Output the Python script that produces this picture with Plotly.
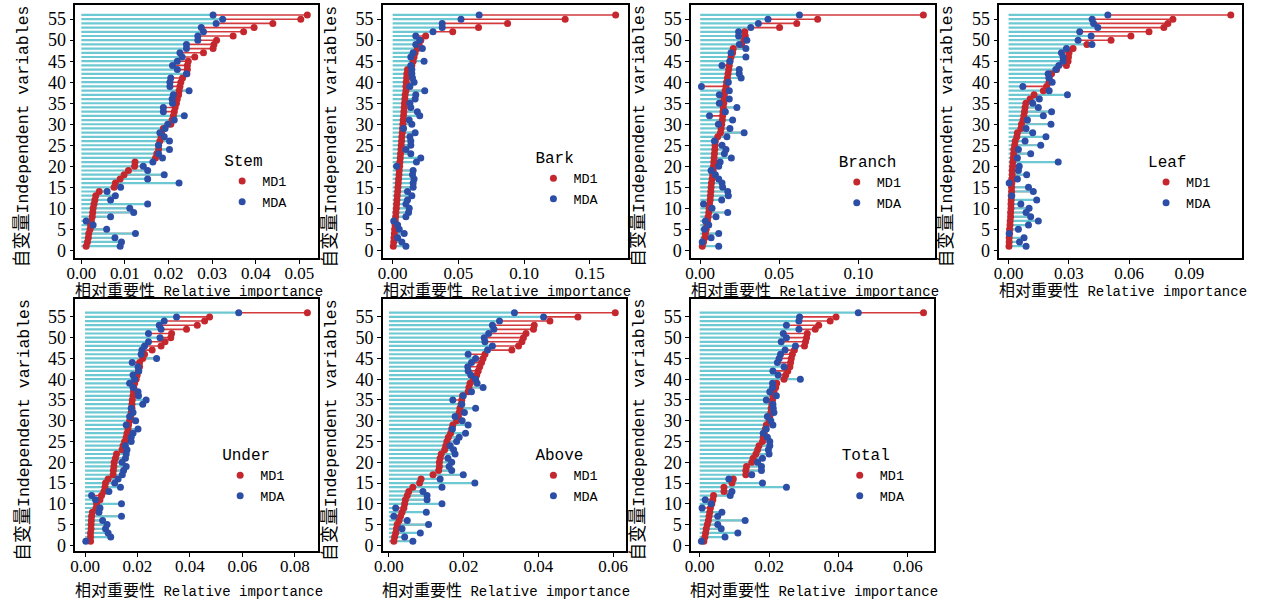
import plotly.graph_objects as go

# ---------------- data ----------------
variables = list(range(56, 0, -1))  # variable index, listed from 56 down to 1

panel_names = ["Stem", "Bark", "Branch", "Leaf", "Under", "Above", "Total"]

stem_mdi = [0.0518, 0.0503, 0.0439, 0.0396, 0.0372, 0.0348, 0.0310, 0.0304, 0.0302, 0.0280,
            0.0260, 0.0245, 0.0243, 0.0243, 0.0242, 0.0232, 0.0228, 0.0226, 0.0224, 0.0223,
            0.0220, 0.0218, 0.0215, 0.0213, 0.0211, 0.0208, 0.0205, 0.0188, 0.0184, 0.0183,
            0.0180, 0.0177, 0.0177, 0.0173, 0.0170, 0.0123, 0.0122, 0.0108, 0.0098, 0.0089,
            0.0078, 0.0075, 0.0041, 0.0033, 0.0031, 0.0029, 0.0027, 0.0026, 0.0025, 0.0023,
            0.0021, 0.0020, 0.0017, 0.0016, 0.0014, 0.0011]
stem_mda = [0.0302, 0.0324, 0.0309, 0.0275, 0.0280, 0.0267, 0.0267, 0.0241, 0.0241, 0.0226,
            0.0231, 0.0220, 0.0209, 0.0220, 0.0241, 0.0205, 0.0203, 0.0203, 0.0247, 0.0211,
            0.0208, 0.0209, 0.0188, 0.0188, 0.0236, 0.0213, 0.0198, 0.0192, 0.0180, 0.0190,
            0.0202, 0.0177, 0.0202, 0.0177, 0.0186, 0.0164, 0.0142, 0.0152, 0.0190, 0.0152,
            0.0224, 0.0090, 0.0059, 0.0078, 0.0067, 0.0152, 0.0111, 0.0120, 0.0067, 0.0011,
            0.0027, 0.0058, 0.0124, 0.0077, 0.0092, 0.0089]

bark_mdi = [0.1696, 0.1312, 0.0874, 0.0653, 0.0457, 0.0251, 0.0214, 0.0201, 0.0188, 0.0171,
            0.0163, 0.0156, 0.0146, 0.0113, 0.0108, 0.0106, 0.0103, 0.0101, 0.0101, 0.0095,
            0.0093, 0.0090, 0.0088, 0.0085, 0.0083, 0.0080, 0.0078, 0.0075, 0.0073, 0.0070,
            0.0068, 0.0065, 0.0063, 0.0060, 0.0058, 0.0055, 0.0053, 0.0050, 0.0048, 0.0045,
            0.0043, 0.0040, 0.0038, 0.0035, 0.0033, 0.0030, 0.0028, 0.0025, 0.0023, 0.0020,
            0.0018, 0.0015, 0.0013, 0.0010, 0.0008, 0.0005]
bark_mda = [0.0658, 0.0520, 0.0377, 0.0377, 0.0307, 0.0176, 0.0206, 0.0176, 0.0226, 0.0156,
            0.0138, 0.0239, 0.0138, 0.0146, 0.0146, 0.0151, 0.0163, 0.0131, 0.0244, 0.0176,
            0.0171, 0.0131, 0.0138, 0.0188, 0.0206, 0.0126, 0.0146, 0.0083, 0.0171, 0.0131,
            0.0138, 0.0138, 0.0101, 0.0138, 0.0214, 0.0181, 0.0030, 0.0156, 0.0151, 0.0163,
            0.0156, 0.0156, 0.0113, 0.0146, 0.0113, 0.0101, 0.0126, 0.0121, 0.0101, 0.0008,
            0.0038, 0.0050, 0.0088, 0.0038, 0.0070, 0.0101]

branch_mdi = [0.1412, 0.0743, 0.0611, 0.0502, 0.0282, 0.0285, 0.0278, 0.0262, 0.0209, 0.0205,
              0.0195, 0.0188, 0.0184, 0.0180, 0.0176, 0.0172, 0.0167, 0.0163, 0.0157, 0.0153,
              0.0151, 0.0149, 0.0146, 0.0144, 0.0142, 0.0140, 0.0136, 0.0132, 0.0128, 0.0111,
              0.0096, 0.0094, 0.0092, 0.0090, 0.0088, 0.0086, 0.0084, 0.0082, 0.0079, 0.0075,
              0.0071, 0.0069, 0.0067, 0.0065, 0.0063, 0.0059, 0.0056, 0.0054, 0.0050, 0.0046,
              0.0042, 0.0038, 0.0033, 0.0029, 0.0021, 0.0013]
branch_mda = [0.0628, 0.0429, 0.0368, 0.0320, 0.0243, 0.0243, 0.0295, 0.0247, 0.0289, 0.0195,
              0.0289, 0.0188, 0.0138, 0.0247, 0.0247, 0.0259, 0.0178, 0.0008, 0.0184, 0.0121,
              0.0184, 0.0121, 0.0232, 0.0159, 0.0059, 0.0205, 0.0115, 0.0188, 0.0278, 0.0169,
              0.0090, 0.0138, 0.0163, 0.0153, 0.0197, 0.0126, 0.0117, 0.0069, 0.0096, 0.0117,
              0.0138, 0.0142, 0.0174, 0.0178, 0.0136, 0.0021, 0.0075, 0.0174, 0.0100, 0.0033,
              0.0054, 0.0027, 0.0117, 0.0069, 0.0013, 0.0117]

leaf_mdi = [0.1106, 0.0818, 0.0793, 0.0773, 0.0699, 0.0609, 0.0510, 0.0390, 0.0321, 0.0301,
            0.0298, 0.0296, 0.0288, 0.0239, 0.0214, 0.0202, 0.0201, 0.0189, 0.0173, 0.0127,
            0.0107, 0.0086, 0.0082, 0.0079, 0.0076, 0.0072, 0.0064, 0.0061, 0.0044, 0.0041,
            0.0033, 0.0030, 0.0026, 0.0025, 0.0023, 0.0021, 0.0020, 0.0018, 0.0018, 0.0016,
            0.0016, 0.0015, 0.0015, 0.0013, 0.0013, 0.0012, 0.0012, 0.0010, 0.0010, 0.0008,
            0.0007, 0.0005, 0.0005, 0.0003, 0.0003, 0.0002]
leaf_mda = [0.0494, 0.0416, 0.0423, 0.0444, 0.0354, 0.0411, 0.0346, 0.0415, 0.0288, 0.0263,
            0.0271, 0.0271, 0.0250, 0.0235, 0.0197, 0.0201, 0.0217, 0.0071, 0.0202, 0.0293,
            0.0153, 0.0120, 0.0148, 0.0214, 0.0173, 0.0094, 0.0211, 0.0087, 0.0120, 0.0186,
            0.0082, 0.0160, 0.0049, 0.0110, 0.0044, 0.0247, 0.0053, 0.0049, 0.0090, 0.0044,
            0.0003, 0.0099, 0.0123, 0.0016, 0.0140, 0.0061, 0.0102, 0.0087, 0.0110, 0.0148,
            0.0099, 0.0049, 0.0003, 0.0077, 0.0054, 0.0087]

under_mdi = [0.0848, 0.0475, 0.0456, 0.0428, 0.0387, 0.0330, 0.0327, 0.0305, 0.0290, 0.0256,
             0.0227, 0.0220, 0.0208, 0.0208, 0.0204, 0.0199, 0.0195, 0.0189, 0.0186, 0.0185,
             0.0183, 0.0180, 0.0179, 0.0179, 0.0176, 0.0174, 0.0170, 0.0166, 0.0164, 0.0160,
             0.0157, 0.0151, 0.0145, 0.0141, 0.0120, 0.0116, 0.0111, 0.0110, 0.0108, 0.0107,
             0.0088, 0.0078, 0.0076, 0.0072, 0.0063, 0.0057, 0.0044, 0.0042, 0.0028, 0.0025,
             0.0024, 0.0023, 0.0023, 0.0021, 0.0021, 0.0021]
under_mda = [0.0586, 0.0349, 0.0302, 0.0283, 0.0290, 0.0242, 0.0286, 0.0242, 0.0227, 0.0217,
             0.0214, 0.0273, 0.0180, 0.0202, 0.0205, 0.0183, 0.0189, 0.0170, 0.0183, 0.0202,
             0.0204, 0.0233, 0.0220, 0.0176, 0.0183, 0.0170, 0.0193, 0.0157, 0.0202, 0.0183,
             0.0176, 0.0176, 0.0154, 0.0160, 0.0157, 0.0154, 0.0141, 0.0157, 0.0147, 0.0142,
             0.0126, 0.0113, 0.0135, 0.0091, 0.0025, 0.0040, 0.0139, 0.0057, 0.0053, 0.0139,
             0.0067, 0.0084, 0.0078, 0.0088, 0.0098, 0.0003]

above_mdi = [0.0606, 0.0506, 0.0431, 0.0389, 0.0387, 0.0367, 0.0360, 0.0356, 0.0347, 0.0329,
             0.0257, 0.0252, 0.0248, 0.0243, 0.0239, 0.0235, 0.0226, 0.0217, 0.0214, 0.0212,
             0.0197, 0.0195, 0.0193, 0.0190, 0.0188, 0.0186, 0.0181, 0.0171, 0.0168, 0.0165,
             0.0159, 0.0155, 0.0152, 0.0149, 0.0140, 0.0137, 0.0135, 0.0135, 0.0133, 0.0118,
             0.0086, 0.0082, 0.0064, 0.0053, 0.0049, 0.0044, 0.0042, 0.0040, 0.0035, 0.0031,
             0.0027, 0.0022, 0.0020, 0.0018, 0.0015, 0.0013]
above_mda = [0.0336, 0.0414, 0.0296, 0.0277, 0.0281, 0.0267, 0.0255, 0.0257, 0.0277, 0.0264,
             0.0212, 0.0232, 0.0221, 0.0211, 0.0212, 0.0219, 0.0232, 0.0236, 0.0252, 0.0221,
             0.0199, 0.0171, 0.0195, 0.0232, 0.0202, 0.0177, 0.0196, 0.0212, 0.0170, 0.0205,
             0.0188, 0.0181, 0.0164, 0.0173, 0.0177, 0.0158, 0.0168, 0.0161, 0.0168, 0.0199,
             0.0137, 0.0230, 0.0142, 0.0091, 0.0102, 0.0102, 0.0142, 0.0018, 0.0100, 0.0013,
             0.0049, 0.0106, 0.0035, 0.0084, 0.0042, 0.0064]

total_mdi = [0.0645, 0.0393, 0.0376, 0.0343, 0.0333, 0.0310, 0.0308, 0.0305, 0.0302, 0.0273,
             0.0267, 0.0264, 0.0262, 0.0260, 0.0254, 0.0248, 0.0243, 0.0222, 0.0219, 0.0214,
             0.0211, 0.0210, 0.0208, 0.0206, 0.0205, 0.0202, 0.0200, 0.0192, 0.0189, 0.0186,
             0.0183, 0.0181, 0.0171, 0.0167, 0.0162, 0.0154, 0.0150, 0.0135, 0.0133, 0.0133,
             0.0097, 0.0093, 0.0070, 0.0070, 0.0040, 0.0038, 0.0035, 0.0031, 0.0029, 0.0027,
             0.0025, 0.0022, 0.0019, 0.0017, 0.0015, 0.0012]
total_mda = [0.0457, 0.0288, 0.0286, 0.0250, 0.0286, 0.0241, 0.0250, 0.0235, 0.0276, 0.0246,
             0.0233, 0.0229, 0.0224, 0.0243, 0.0211, 0.0226, 0.0290, 0.0210, 0.0210, 0.0202,
             0.0221, 0.0192, 0.0211, 0.0212, 0.0214, 0.0195, 0.0205, 0.0211, 0.0192, 0.0183,
             0.0195, 0.0202, 0.0202, 0.0198, 0.0200, 0.0181, 0.0167, 0.0178, 0.0178, 0.0150,
             0.0084, 0.0181, 0.0250, 0.0093, 0.0088, 0.0016, 0.0033, 0.0007, 0.0064, 0.0052,
             0.0131, 0.0052, 0.0062, 0.0110, 0.0073, 0.0005]

mdi_series = [stem_mdi, bark_mdi, branch_mdi, leaf_mdi, under_mdi, above_mdi, total_mdi]
mda_series = [stem_mda, bark_mda, branch_mda, leaf_mda, under_mda, above_mda, total_mda]

x_tick_values = [
    [0.00, 0.01, 0.02, 0.03, 0.04, 0.05],
    [0.00, 0.05, 0.10, 0.15],
    [0.00, 0.05, 0.10],
    [0.00, 0.03, 0.06, 0.09],
    [0.00, 0.02, 0.04, 0.06, 0.08],
    [0.00, 0.02, 0.04, 0.06],
    [0.00, 0.02, 0.04, 0.06],
]
y_tick_values = [0, 5, 10, 15, 20, 25, 30, 35, 40, 45, 50, 55]

legend_names = ["MD1", "MDA"]
x_title = '<span style="font-size:16px">相对重要性</span> Relative importance'
y_title = '<span style="font-size:18px">自变量</span>Independent variables'

# ---------------- layout / style ----------------
W, H = 1270, 606
RED = "#c4282e"
RED_LINE = "#d23a3c"
BLUE = "#2c4ea6"
CYAN = "#6cc8d2"
FONT_MONO = "Liberation Mono, Noto Sans CJK SC"
FONT_TICK = "Liberation Serif, Noto Sans CJK SC"

# plot boxes in pixels: (left, right, top, bottom)
boxes = [(67, 312, 5, 260), (377, 624, 5, 260), (688, 934, 5, 260), (999, 1244, 5, 260),
         (67, 312, 301, 555), (377, 622, 301, 555), (688, 933, 301, 555)]
x_ranges = [[-0.00136, 0.05432], [-0.00754, 0.1787], [-0.0058, 0.1485], [-0.0046, 0.1163],
            [-0.00367, 0.08896], [-0.00167, 0.06337], [-0.00249, 0.0675]]
y_ranges = [[-1.89, 58.38]] * 4 + [[-1.43, 59.3]] * 3
legend_px = [(215, 146), (529, 143), (835, 147), (1147, 147), (213, 442), (529, 442), (838, 442)]
x_title_y = [293, 293, 293, 293, 595, 595, 595]


def px_x(p):
    return p / W


def px_y(p):
    return 1 - p / H


fig = go.Figure()
annotations = []
layout_axes = {}

for k, name in enumerate(panel_names):
    n = k + 1
    xa = "x" if n == 1 else f"x{n}"
    ya = "y" if n == 1 else f"y{n}"
    leg = "legend" if n == 1 else f"legend{n}"
    mdi = mdi_series[k]
    mda = mda_series[k]

    # red segments MDA -> MDI (the part between the two measures)
    lx, ly = [], []
    for v_mdi, v_mda, i in zip(mdi, mda, variables):
        lx += [v_mda, v_mdi, None]
        ly += [i, i, None]
    fig.add_trace(go.Scatter(x=lx, y=ly, mode="lines", line=dict(color=RED_LINE, width=1.6),
                             xaxis=xa, yaxis=ya, showlegend=False, hoverinfo="skip"))
    # cyan segments 0 -> MDA
    cx, cy = [], []
    for v, i in zip(mda, variables):
        cx += [0, v, None]
        cy += [i, i, None]
    fig.add_trace(go.Scatter(x=cx, y=cy, mode="lines", line=dict(color=CYAN, width=2.2),
                             xaxis=xa, yaxis=ya, showlegend=False, hoverinfo="skip"))
    fig.add_trace(go.Scatter(x=mdi, y=variables, mode="markers", name=legend_names[0],
                             marker=dict(color=RED, size=7), xaxis=xa, yaxis=ya,
                             legend=leg, showlegend=True))
    fig.add_trace(go.Scatter(x=mda, y=variables, mode="markers", name=legend_names[1],
                             marker=dict(color=BLUE, size=7), xaxis=xa, yaxis=ya,
                             legend=leg, showlegend=True))

    l, r, t, b = boxes[k]
    xkey = "xaxis" if n == 1 else f"xaxis{n}"
    ykey = "yaxis" if n == 1 else f"yaxis{n}"
    layout_axes[xkey] = dict(domain=[px_x(l), px_x(r)], range=x_ranges[k], anchor=ya,
                             tickvals=x_tick_values[k], tickformat=".2f",
                             showgrid=False, zeroline=False, showline=True, mirror=True,
                             linecolor="black", linewidth=1.5, ticks="outside", ticklen=4,
                             ticklabelstandoff=-5,
                             tickcolor="black", tickfont=dict(family=FONT_TICK, size=17, color="black"))
    layout_axes[ykey] = dict(domain=[px_y(b), px_y(t)], range=y_ranges[k], anchor=xa,
                             tickvals=y_tick_values,
                             showgrid=False, zeroline=False, showline=True, mirror=True,
                             linecolor="black", linewidth=1.5, ticks="outside", ticklen=4,
                             tickcolor="black", tickfont=dict(family=FONT_TICK, size=18, color="black"))
    lx_px, ly_px = legend_px[k]
    layout_axes[leg] = dict(x=px_x(lx_px), y=px_y(ly_px), xanchor="left", yanchor="top",
                            bgcolor="rgba(0,0,0,0)", font=dict(family=FONT_MONO, size=13.5, color="black"),
                            title=dict(text=name, font=dict(family=FONT_MONO, size=16, color="black")))

    annotations.append(dict(text=x_title, xref="paper", yref="paper",
                            x=px_x((l + r) / 2 + 2), y=px_y(x_title_y[k]), xanchor="center", yanchor="middle",
                            showarrow=False, font=dict(family=FONT_MONO, size=14, color="black")))
    annotations.append(dict(text=y_title, xref="paper", yref="paper", textangle=-90,
                            x=px_x(l - 53), y=px_y((t + b) / 2 + 5), xanchor="center", yanchor="middle",
                            showarrow=False, font=dict(family=FONT_MONO, size=16.5, color="black")))

fig.update_layout(width=W, height=H, margin=dict(l=0, r=0, t=0, b=0),
                  paper_bgcolor="white", plot_bgcolor="white",
                  annotations=annotations, **layout_axes)

fig.write_html("out.html", config={"displayModeBar": False},
               post_script="document.body.style.margin='0';document.body.style.overflow='hidden';")
